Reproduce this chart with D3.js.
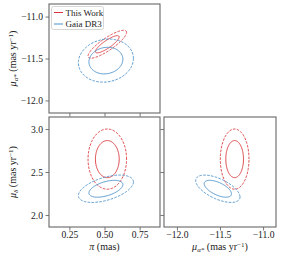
<!DOCTYPE html>
<html>
<head>
<meta charset="utf-8">
<script src="https://cdn.jsdelivr.net/npm/d3@7"></script>
<style>
  body { margin: 0; background: white; }
  text { font-family: "Liberation Serif", "DejaVu Serif", serif; fill: #222; }
</style>
</head>
<body>
<svg id="chart" width="281" height="259"></svg>
<script>
// series and their estimated mean / sigma / correlation
const seriesNames = ["This Work", "Gaia DR3"];
const seriesColors = ["#d9353a", "#4b91c9"];
const plxMean = [0.52, 0.51];
const pmraMean = [-11.33, -11.525];
const pmdecMean = [2.65, 2.305];
const plxSigma = [0.056, 0.08];
const pmraSigma = [0.068, 0.105];
const pmdecSigma = [0.143, 0.065];
const corrPlxPmra = [0.85, 0.1];
const corrPlxPmdec = [0.0, 0.5];
const corrPmraPmdec = [0.0, -0.6];
const contourLevels = [0.68, 0.95];

// axes
const plxDomain = [0.105, 0.895];
const pmraDomain = [-12.15, -10.85];
const pmdecDomain = [1.86, 3.14];
const plxTicks = [0.25, 0.50, 0.75];
const pmraTicks = [-12.0, -11.5, -11.0];
const pmdecTicks = [2.0, 2.5, 3.0];

let svg = d3.select("#chart");

// panel boxes
let panels = [
    {x0: 49, x1: 160, y0: 4, y1: 113, xKey: "plx", yKey: "pmra", xLabels: false, yLabels: true},
    {x0: 49, x1: 160, y0: 117, y1: 227, xKey: "plx", yKey: "pmdec", xLabels: true, yLabels: true},
    {x0: 164, x1: 276, y0: 117, y1: 227, xKey: "pmra", yKey: "pmdec", xLabels: true, yLabels: false}
];

let dims = {
    plx: {domain: plxDomain, ticks: plxTicks, mean: plxMean, sigma: plxSigma, fmt: d3.format(".2f")},
    pmra: {domain: pmraDomain, ticks: pmraTicks, mean: pmraMean, sigma: pmraSigma, fmt: d => d3.format(".1f")(d).replace("-", "\u2212")},
    pmdec: {domain: pmdecDomain, ticks: pmdecTicks, mean: pmdecMean, sigma: pmdecSigma, fmt: d3.format(".1f")}
};

function corrFor(a, b, i) {
    let k = [a, b].sort().join("-");
    if (k == "plx-pmra") return corrPlxPmra[i];
    if (k == "plx-pmdec") return corrPlxPmdec[i];
    return corrPmraPmdec[i];
}

function ellipsePoints(mx, my, sx, sy, rho, level) {
    let k = Math.sqrt(-2 * Math.log(1 - level));
    let pts = [];
    for (let j = 0; j < 120; j++) {
        let t = j / 120 * 2 * Math.PI;
        pts.push([mx + k * sx * Math.cos(t),
                  my + k * sy * (rho * Math.cos(t) + Math.sqrt(1 - rho * rho) * Math.sin(t))]);
    }
    return pts;
}

panels.forEach(function(p) {
    let xd = dims[p.xKey], yd = dims[p.yKey];
    let xScale = d3.scaleLinear().domain(xd.domain).range([p.x0, p.x1]);
    let yScale = d3.scaleLinear().domain(yd.domain).range([p.y1, p.y0]);
    let g = svg.append("g");

    // ellipses: dashed outer, solid inner
    let line = d3.line().x(d => xScale(d[0])).y(d => yScale(d[1])).curve(d3.curveLinearClosed);
    seriesNames.forEach(function(name, i) {
        let rho = corrFor(p.xKey, p.yKey, i);
        contourLevels.forEach(function(lev, li) {
            g.append("path")
                .attr("d", line(ellipsePoints(xd.mean[i], yd.mean[i], xd.sigma[i], yd.sigma[i], rho, lev)))
                .attr("fill", "none")
                .attr("stroke", seriesColors[i])
                .attr("stroke-width", 0.9)
                .attr("stroke-dasharray", li == 1 ? "2.6,1.3" : null);
        });
    });

    // axes
    let xAxis = g.append("g")
        .attr("transform", "translate(0," + p.y1 + ")")
        .call(d3.axisBottom(xScale).tickValues(xd.ticks).tickSize(3.5).tickPadding(1)
            .tickFormat(p.xLabels ? xd.fmt : ""));
    let yAxis = g.append("g")
        .attr("transform", "translate(" + p.x0 + ",0)")
        .call(d3.axisLeft(yScale).tickValues(yd.ticks).tickSize(3.5).tickPadding(2.5)
            .tickFormat(p.yLabels ? yd.fmt : ""));
    [xAxis, yAxis].forEach(function(a) {
        a.select(".domain").remove();
        a.selectAll(".tick line").attr("stroke", "#555").attr("stroke-width", 0.8);
        a.selectAll(".tick text").style("font-family", "Liberation Serif").style("font-size", "9.6px").attr("fill", "#222");
    });

    g.append("rect")
        .attr("x", p.x0).attr("y", p.y0)
        .attr("width", p.x1 - p.x0).attr("height", p.y1 - p.y0)
        .attr("fill", "none")
        .attr("stroke", "#666")
        .attr("stroke-width", 1.1);
});

// axis labels
function pmLabel(sel, sub) {
    sel.append("tspan").style("font-style", "italic").text("\u03bc");
    sel.append("tspan").style("font-style", "italic").style("font-size", "7px").attr("dy", 2).text(sub);
    sel.append("tspan").attr("dy", -2).text(" (mas yr");
    sel.append("tspan").style("font-size", "7px").attr("dy", -3.5).text("\u22121");
    sel.append("tspan").attr("dy", 3.5).text(")");
}

svg.append("text")
    .attr("transform", "translate(16,58.5) rotate(-90)")
    .attr("text-anchor", "middle")
    .style("font-size", "10px")
    .call(pmLabel, "\u03b1*");

svg.append("text")
    .attr("transform", "translate(16,172) rotate(-90)")
    .attr("text-anchor", "middle")
    .style("font-size", "10px")
    .call(pmLabel, "\u03b4");

let plxLabel = svg.append("text")
    .attr("x", 104.5).attr("y", 250)
    .attr("text-anchor", "middle")
    .style("font-size", "10px");
plxLabel.append("tspan").style("font-style", "italic").text("\u03c0");
plxLabel.append("tspan").text(" (mas)");

svg.append("text")
    .attr("x", 220).attr("y", 250)
    .attr("text-anchor", "middle")
    .style("font-size", "10px")
    .call(pmLabel, "\u03b1*");

// legend
let legend = svg.append("g");
legend.append("rect")
    .attr("x", 51.5).attr("y", 6.5)
    .attr("width", 52).attr("height", 23)
    .attr("rx", 2)
    .attr("fill", "white").attr("fill-opacity", 0.8)
    .attr("stroke", "#ccc").attr("stroke-width", 0.8);
seriesNames.forEach(function(name, i) {
    let y = 12.5 + i * 11.5;
    legend.append("line")
        .attr("x1", 54).attr("x2", 63)
        .attr("y1", y).attr("y2", y)
        .attr("stroke", seriesColors[i]).attr("stroke-width", 1);
    legend.append("text")
        .attr("x", 65.5).attr("y", y + 3.2)
        .style("font-size", "9px")
        .text(name);
});
</script>
</body>
</html>
